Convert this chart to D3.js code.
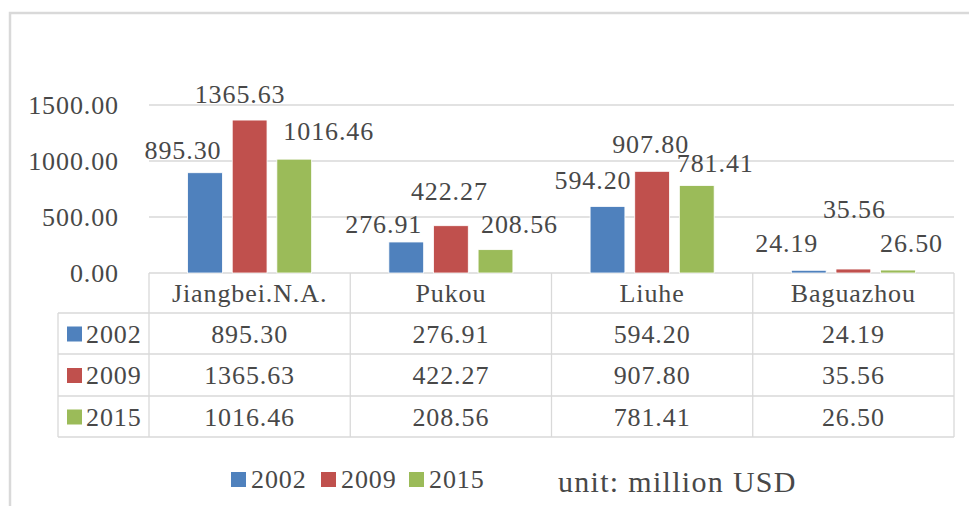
<!DOCTYPE html>
<html>
<head>
<meta charset="utf-8">
<script src="https://cdn.jsdelivr.net/npm/d3@7"></script>
<style>
  html, body { margin: 0; padding: 0; background: #fff; }
  svg { display: block; }
  text { font-family: "Liberation Serif", "Times New Roman", serif; fill: #484848; letter-spacing: 0.9px; }
</style>
</head>
<body>
<svg id="chart" width="969" height="506"></svg>
<script>
// ---- data ----
const categories = ["Jiangbei.N.A.", "Pukou", "Liuhe", "Baguazhou"];
const seriesNames = ["2002", "2009", "2015"];
const values2002 = [895.30, 276.91, 594.20, 24.19];
const values2009 = [1365.63, 422.27, 907.80, 35.56];
const values2015 = [1016.46, 208.56, 781.41, 26.50];
const yTicks = [0, 500, 1000, 1500];
const unitLabel = "unit: million USD";

// ---- layout (label nudges, as arranged in the original) ----
const labelDx = [[-22, -22.5, -14.5, -22], [-9.5, -1.5, -1.5, 1], [34.5, 24, 18.5, 13.5]];
const labelDy = [[-14, -9, -17, -18], [-17, -26, -18, -51], [-19, -17, -13.5, -18]];

const seriesValues = [values2002, values2009, values2015];
const colors = ["#4f81bd", "#c0504d", "#9bbb59"];
const gridColor = "#d9d9d9";

const svg = d3.select("#chart");

// outer chart border (cropped on right/bottom)
svg.append("path")
  .attr("d", "M10,506 L10,13 L969,13")
  .attr("fill", "none").attr("stroke", "#d9d9d9").attr("stroke-width", 2.5);

const plotLeft = 149, plotRight = 954, plotTop = 105, plotBottom = 273;
const tableLeft = 58;
const rowEdges = [273, 313, 354, 396, 437];

const x0 = d3.scaleBand().domain(categories).range([plotLeft, plotRight]).padding(0);
const x1 = d3.scaleBand().domain(seriesNames).range([0, x0.bandwidth()])
  .paddingInner(0.22).paddingOuter(0.865);
const y = d3.scaleLinear().domain([0, 1500]).range([plotBottom, plotTop]);

// gridlines
svg.append("g").selectAll("line").data(yTicks).join("line")
  .attr("x1", plotLeft).attr("x2", plotRight)
  .attr("y1", d => y(d)).attr("y2", d => y(d))
  .attr("stroke", gridColor).attr("stroke-width", 1.3);

// y-axis labels
svg.append("g").selectAll("text").data(yTicks).join("text")
  .attr("x", 119).attr("y", d => y(d)).attr("dy", "0.36em")
  .attr("text-anchor", "end").attr("font-size", 26)
  .text(d => d3.format(".2f")(d));

// bars
seriesNames.forEach((s, si) => {
  const g = svg.append("g");
  g.selectAll("rect").data(categories).join("rect")
    .attr("x", c => x0(c) + x1(s))
    .attr("y", (c, ci) => y(seriesValues[si][ci]))
    .attr("width", x1.bandwidth())
    .attr("height", (c, ci) => y(0) - y(seriesValues[si][ci]))
    .attr("fill", colors[si])
    .attr("stroke", "#ffffff").attr("stroke-width", 0.8);
  g.selectAll("text").data(categories).join("text")
    .attr("x", (c, ci) => x0(c) + x1(s) + x1.bandwidth() / 2 + labelDx[si][ci])
    .attr("y", (c, ci) => y(seriesValues[si][ci]) + labelDy[si][ci])
    .attr("text-anchor", "middle").attr("font-size", 26)
    .text((c, ci) => d3.format(".2f")(seriesValues[si][ci]));
});

// data table lines
const tbl = svg.append("g").attr("stroke", gridColor).attr("stroke-width", 1.3);
rowEdges.slice(1).forEach(ry => {
  tbl.append("line").attr("x1", tableLeft).attr("x2", plotRight).attr("y1", ry).attr("y2", ry);
});
tbl.append("line").attr("x1", tableLeft).attr("x2", tableLeft).attr("y1", rowEdges[1]).attr("y2", rowEdges[4]);
const colEdges = categories.map(c => x0(c)).concat([plotRight]);
colEdges.forEach(cx => {
  tbl.append("line").attr("x1", cx).attr("x2", cx).attr("y1", rowEdges[0]).attr("y2", rowEdges[4]);
});

// category header row
svg.append("g").selectAll("text").data(categories).join("text")
  .attr("x", c => x0(c) + x0.bandwidth() / 2)
  .attr("y", (rowEdges[0] + rowEdges[1]) / 2).attr("dy", "0.36em")
  .attr("text-anchor", "middle").attr("font-size", 26)
  .text(c => c);

// series rows
seriesNames.forEach((s, si) => {
  const cy = (rowEdges[si + 1] + rowEdges[si + 2]) / 2;
  const g = svg.append("g");
  g.append("rect").attr("x", 67).attr("y", cy - 7).attr("width", 15).attr("height", 15)
    .attr("fill", colors[si]);
  g.append("text").attr("x", 86).attr("y", cy).attr("dy", "0.36em")
    .attr("font-size", 26).text(s);
  g.selectAll("text.v").data(categories).join("text").attr("class", "v")
    .attr("x", c => x0(c) + x0.bandwidth() / 2)
    .attr("y", cy).attr("dy", "0.36em")
    .attr("text-anchor", "middle").attr("font-size", 26)
    .text((c, ci) => d3.format(".2f")(seriesValues[si][ci]));
});

// legend
const legendX = [231, 321, 409];
const lg = svg.append("g");
seriesNames.forEach((s, si) => {
  lg.append("rect").attr("x", legendX[si]).attr("y", 472).attr("width", 15).attr("height", 15)
    .attr("fill", colors[si]);
  lg.append("text").attr("x", legendX[si] + 20).attr("y", 488)
    .attr("font-size", 26).text(s);
});

svg.append("text").attr("x", 558).attr("y", 492)
  .attr("font-size", 30).style("letter-spacing", "1.3px").text(unitLabel);
</script>
</body>
</html>
